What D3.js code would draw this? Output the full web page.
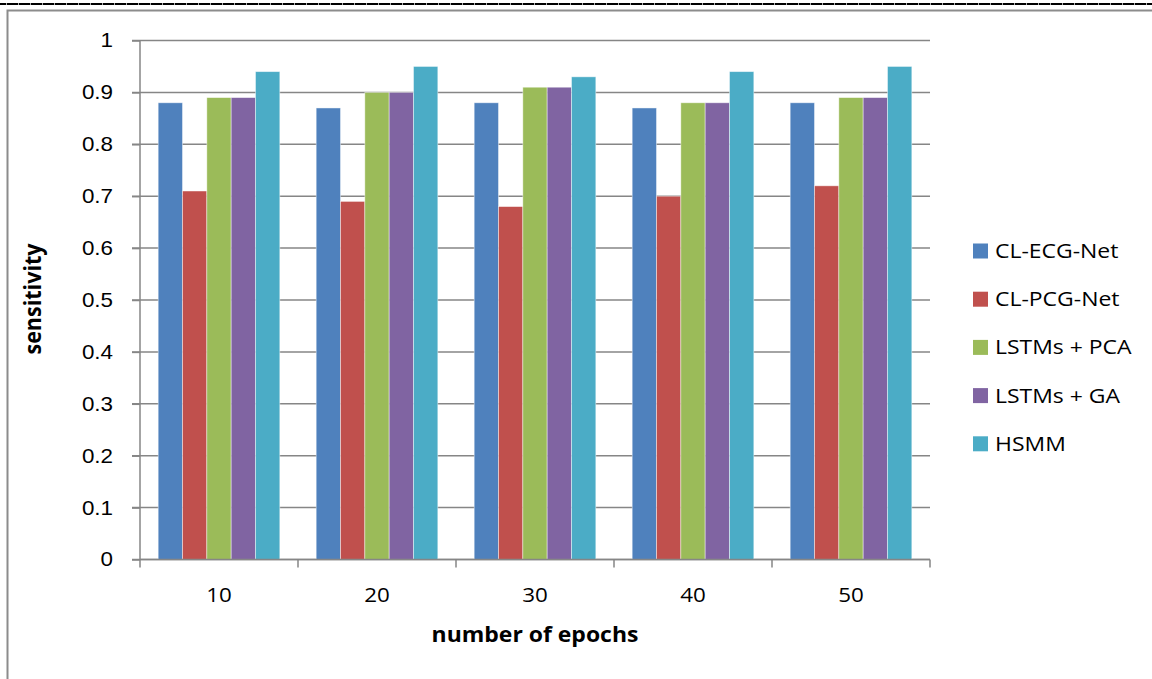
<!DOCTYPE html>
<html>
<head>
<meta charset="utf-8">
<script src="https://cdn.jsdelivr.net/npm/d3@7"></script>
<style>
  html, body { margin: 0; padding: 0; background: #fff; }
  svg { display: block; font-family: "Open Sans", Lato, sans-serif; }
</style>
</head>
<body>
<svg id="chart" width="1152" height="679"></svg>
<script>
// Sensitivity per training length for each model
const epochs = ["10", "20", "30", "40", "50"];
const seriesNames = ["CL-ECG-Net", "CL-PCG-Net", "LSTMs + PCA", "LSTMs + GA", "HSMM"];
const clEcgNet  = [0.88, 0.87, 0.88, 0.87, 0.88];
const clPcgNet  = [0.71, 0.69, 0.68, 0.70, 0.72];
const lstmPca   = [0.89, 0.90, 0.91, 0.88, 0.89];
const lstmGa    = [0.89, 0.90, 0.91, 0.88, 0.89];
const hsmm      = [0.94, 0.95, 0.93, 0.94, 0.95];
const yTicks    = [0, 0.1, 0.2, 0.3, 0.4, 0.5, 0.6, 0.7, 0.8, 0.9, 1];
const colors    = ["#4F81BD", "#C0504D", "#9BBB59", "#8064A2", "#4BACC6"];

const seriesValues = [clEcgNet, clPcgNet, lstmPca, lstmGa, hsmm];

// text is drawn slightly widened
const STRETCH = 1.12;

const svg = d3.select("#chart");

// page rule along the very top: solid black with faint grey joints
svg.append("line")
  .attr("x1", 0).attr("x2", 1152).attr("y1", 4).attr("y2", 4)
  .attr("stroke", "#000").attr("stroke-width", 2);
svg.append("line")
  .attr("x1", 6).attr("x2", 1152).attr("y1", 4).attr("y2", 4)
  .attr("stroke", "#aaa").attr("stroke-width", 2)
  .attr("stroke-dasharray", "1 11");

// chart frame
svg.append("path")
  .attr("d", "M7.5,679 V10.5 H1152")
  .attr("fill", "none").attr("stroke", "#8c8c8c").attr("stroke-width", 2);

const plot = { left: 140, right: 930, top: 40.5, bottom: 559.5 };

const x = d3.scaleBand()
  .domain(epochs)
  .range([plot.left, plot.right])
  .paddingInner(0.23)
  .paddingOuter(0.115);

const xGroup = d3.scaleBand()
  .domain(epochs)
  .range([plot.left, plot.right]);

const xInner = d3.scaleBand()
  .domain(seriesNames)
  .range([0, x.bandwidth()]);

const y = d3.scaleLinear().domain([0, 1]).range([plot.bottom, plot.top]);

// horizontal gridlines
svg.append("g")
  .selectAll("line")
  .data(yTicks)
  .join("line")
  .attr("x1", plot.left - 8).attr("x2", plot.right)
  .attr("y1", d => y(d)).attr("y2", d => y(d))
  .attr("stroke", "#868686").attr("stroke-width", 1.5);

// bars
const groups = svg.append("g")
  .selectAll("g")
  .data(epochs)
  .join("g")
  .attr("transform", d => `translate(${x(d)},0)`);

groups.selectAll("rect")
  .data((d, i) => seriesNames.map((s, j) => ({ s, v: seriesValues[j][i], c: colors[j] })))
  .join("rect")
  .attr("x", d => xInner(d.s))
  .attr("width", xInner.bandwidth())
  .attr("y", d => y(d.v))
  .attr("height", d => y(0) - y(d.v))
  .attr("fill", d => d.c)
  .attr("stroke", "rgba(255,255,255,0.55)")
  .attr("stroke-width", 0.8);

// y axis
const yAxis = d3.axisLeft(y)
  .tickValues(yTicks)
  .tickFormat(d3.format("~g"))
  .tickSize(8)
  .tickPadding(27 / STRETCH - 8);

const gy = svg.append("g")
  .attr("transform", `translate(${plot.left},0)`)
  .call(yAxis);
gy.select(".domain").attr("stroke", "#868686").attr("stroke-width", 1.5)
  .attr("d", `M0,${plot.top}V${plot.bottom}`);
gy.selectAll(".tick line").attr("stroke", "#868686").attr("stroke-width", 1.5);
gy.selectAll(".tick text")
  .attr("fill", "#000")
  .attr("transform", `scale(${STRETCH},1)`)
  .style("font-size", "20px");

// x axis: group boundaries carry the tick marks
const gx = svg.append("g").attr("transform", `translate(0,${plot.bottom})`);
gx.append("line")
  .attr("x1", plot.left).attr("x2", plot.right)
  .attr("stroke", "#868686").attr("stroke-width", 1.5);
const boundaries = epochs.map(d => xGroup(d)).concat([plot.right]);
gx.selectAll(".bound")
  .data(boundaries)
  .join("line")
  .attr("class", "bound")
  .attr("x1", d => d).attr("x2", d => d)
  .attr("y1", 0).attr("y2", 8)
  .attr("stroke", "#868686").attr("stroke-width", 1.5);
gx.selectAll("text")
  .data(epochs)
  .join("text")
  .attr("transform", d => `translate(${xGroup(d) + xGroup.bandwidth() / 2},42) scale(${STRETCH},1)`)
  .attr("text-anchor", "middle")
  .style("font-size", "20px")
  .text(d => d);

// axis titles
svg.append("text")
  .attr("transform", `translate(535,642) scale(${STRETCH},1)`)
  .attr("text-anchor", "middle")
  .style("font-size", "20.5px").style("font-weight", "bold")
  .text("number of epochs");

svg.append("text")
  .attr("transform", `translate(41,299) rotate(-90) scale(1.05,${STRETCH})`)
  .attr("text-anchor", "middle")
  .style("font-size", "20.5px").style("font-weight", "bold")
  .text("sensitivity");

// legend
const legend = svg.append("g")
  .selectAll("g")
  .data(seriesNames)
  .join("g")
  .attr("transform", (d, i) => `translate(973,${251 + i * 48.2})`);
legend.append("rect")
  .attr("x", 0).attr("y", -7.5)
  .attr("width", 15).attr("height", 15)
  .attr("fill", (d, i) => colors[i]);
legend.append("text")
  .attr("transform", `translate(22,7) scale(${STRETCH},1)`)
  .style("font-size", "20.5px")
  .text(d => d);
</script>
</body>
</html>
